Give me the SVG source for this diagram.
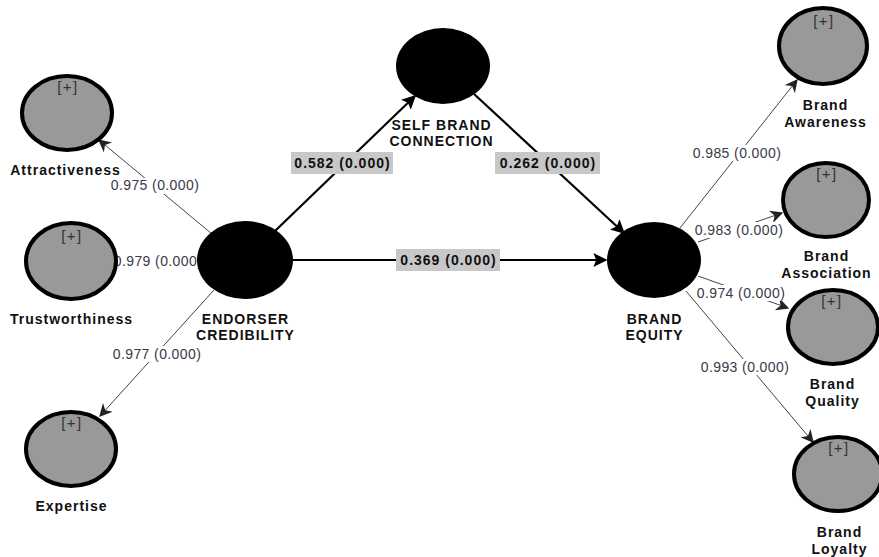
<svg xmlns="http://www.w3.org/2000/svg" width="879" height="557" viewBox="0 0 879 557">
<style>
.lv{fill:#000}
.ind{fill:#999;stroke:#000;stroke-width:4}
.plus{font-family:"Liberation Sans",Arial,sans-serif;font-size:15px;letter-spacing:1.5px;fill:#333;text-anchor:middle}
.name{font-family:"Liberation Sans",Arial,sans-serif;font-size:14px;letter-spacing:1px;font-weight:bold;fill:#111;text-anchor:middle}
.ld{font-family:"Liberation Sans",Arial,sans-serif;font-size:14px;letter-spacing:0.4px;fill:#3a3a4a;text-anchor:middle}
.pc{font-family:"Liberation Sans",Arial,sans-serif;font-size:14px;letter-spacing:1px;font-weight:bold;fill:#111;text-anchor:middle}
.pcbg{fill:#c8c8c8}
.thin{stroke:#444;stroke-width:1;fill:none;marker-end:url(#a1)}
.thick{stroke:#000;stroke-width:2.2;fill:none;marker-end:url(#a2)}
.lbg{fill:#fff}
</style>
<defs>
<marker id="a1" viewBox="0 0 10 10" refX="9" refY="5" markerWidth="13" markerHeight="13" markerUnits="userSpaceOnUse" orient="auto">
<path d="M0,0 L10,5 L0,10 L3,5 z" fill="#222"/>
</marker>
<marker id="a2" viewBox="0 0 10 10" refX="9" refY="5" markerWidth="14" markerHeight="14" markerUnits="userSpaceOnUse" orient="auto">
<path d="M0,0 L10,5 L0,10 L2,5 z" fill="#000"/>
</marker>
</defs>
<rect width="879" height="557" fill="#fff"/>
<g id="connectors">
<line class="thin" x1="212" y1="234" x2="99" y2="140"/>
<line class="thin" x1="197" y1="261" x2="119" y2="261"/>
<line class="thin" x1="214" y1="290" x2="100" y2="416"/>
<line class="thin" x1="680" y1="228" x2="797" y2="80"/>
<line class="thin" x1="698" y1="242" x2="782" y2="213"/>
<line class="thin" x1="698" y1="276" x2="788" y2="308"/>
<line class="thin" x1="686" y1="291" x2="813" y2="442"/>
<line class="thick" x1="275" y1="231" x2="415" y2="96"/>
<line class="thick" x1="474" y1="94" x2="624" y2="233"/>
<line class="thick" x1="293" y1="260" x2="606" y2="260"/>
<g id="loading-labels">
<rect class="lbg" x="109" y="178" width="92" height="16"/>
<text class="ld" x="155" y="190">0.975 (0.000)</text>
<rect class="lbg" x="112" y="253" width="92" height="16"/>
<text class="ld" x="158" y="266">0.979 (0.000)</text>
<rect class="lbg" x="111" y="346" width="92" height="16"/>
<text class="ld" x="157" y="359">0.977 (0.000)</text>
<rect class="lbg" x="691" y="145" width="92" height="16"/>
<text class="ld" x="737" y="158">0.985 (0.000)</text>
<rect class="lbg" x="693" y="222" width="92" height="16"/>
<text class="ld" x="739" y="235">0.983 (0.000)</text>
<rect class="lbg" x="695" y="285" width="92" height="16"/>
<text class="ld" x="741" y="298">0.974 (0.000)</text>
<rect class="lbg" x="699" y="359" width="92" height="16"/>
<text class="ld" x="745" y="372">0.993 (0.000)</text>
</g>
<g id="path-labels">
<rect class="pcbg" x="291" y="152" width="102" height="22"/>
<text class="pc" x="342.5" y="168">0.582 (0.000)</text>
<rect class="pcbg" x="495" y="152" width="105" height="22"/>
<text class="pc" x="548" y="168">0.262 (0.000)</text>
<rect class="pcbg" x="396" y="249" width="104" height="22"/>
<text class="pc" x="448.5" y="265">0.369 (0.000)</text>
</g>
</g>
<g id="attractiveness">
<ellipse class="ind" cx="67" cy="113" rx="45" ry="37"/>
<text class="plus" x="68" y="92">[+]</text>
<text class="name" x="65.5" y="175">Attractiveness</text>
</g>
<g id="trustworthiness">
<ellipse class="ind" cx="71" cy="261" rx="45" ry="38"/>
<text class="plus" x="72" y="241">[+]</text>
<text class="name" x="71.5" y="324">Trustworthiness</text>
</g>
<g id="expertise">
<ellipse class="ind" cx="71" cy="449" rx="45" ry="37"/>
<text class="plus" x="72" y="428">[+]</text>
<text class="name" x="71.5" y="511">Expertise</text>
</g>
<g id="endorser-credibility">
<ellipse class="lv" cx="245" cy="260" rx="48" ry="39"/>
<text class="name" x="245.5" y="324">ENDORSER</text>
<text class="name" x="245.5" y="340">CREDIBILITY</text>
</g>
<g id="self-brand-connection">
<ellipse class="lv" cx="443" cy="66" rx="47" ry="38"/>
<text class="name" x="441.5" y="130">SELF BRAND</text>
<text class="name" x="441.5" y="146">CONNECTION</text>
</g>
<g id="brand-equity">
<ellipse class="lv" cx="654" cy="260" rx="47" ry="38"/>
<text class="name" x="654.5" y="324">BRAND</text>
<text class="name" x="654.5" y="340">EQUITY</text>
</g>
<g id="brand-awareness">
<ellipse class="ind" cx="823" cy="46" rx="44" ry="38"/>
<text class="plus" x="824" y="26">[+]</text>
<text class="name" x="825.5" y="110">Brand</text>
<text class="name" x="825.5" y="127">Awareness</text>
</g>
<g id="brand-association">
<ellipse class="ind" cx="826" cy="200" rx="43" ry="37"/>
<text class="plus" x="827" y="179">[+]</text>
<text class="name" x="826.5" y="261">Brand</text>
<text class="name" x="826.5" y="278">Association</text>
</g>
<g id="brand-quality">
<ellipse class="ind" cx="833" cy="327" rx="45" ry="37"/>
<text class="plus" x="832" y="306">[+]</text>
<text class="name" x="832.5" y="389">Brand</text>
<text class="name" x="832.5" y="406">Quality</text>
</g>
<g id="brand-loyalty">
<ellipse class="ind" cx="838" cy="474" rx="44" ry="37"/>
<text class="plus" x="839" y="453">[+]</text>
<text class="name" x="839.5" y="537">Brand</text>
<text class="name" x="839.5" y="554">Loyalty</text>
</g>
</svg>
